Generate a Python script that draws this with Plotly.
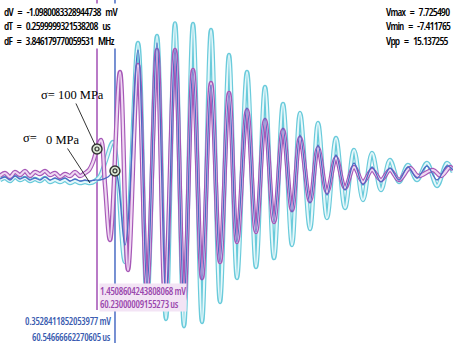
import numpy as np
import plotly.graph_objects as go

# --- acquisition time base -------------------------------------------------
SAMPLE_US = 0.0175944          # time per sample, µs
T_START = 58.5234              # time of sample 0, µs

# --- channel A (cyan): sample index / amplitude in mV ----------------------
cyan_sample = [0, 5, 10, 15, 20, 25, 30, 35, 40, 45, 50, 55, 60, 65, 70, 75, 80, 85, 90, 95,
               100, 106, 113, 125, 138, 147, 157, 166, 175, 184, 193, 202, 211, 220, 229,
               237, 247, 256, 265, 274, 283, 292, 300, 310, 318, 327, 336, 345, 354, 363,
               372, 381, 390, 399, 408, 417, 427, 437, 447, 453]
cyan_mv = [-0.10, 0.00, -0.15, 0.05, -0.10, 0.00, -0.15, -0.05, -0.15, 0.00, -0.20, -0.10,
           -0.20, -0.10, -0.25, -0.15, -0.25, -0.20, -0.25, -0.15,
           0.10, 0.90, 1.80, -4.20, 6.75, -6.35, 7.10, -7.05, 7.73, -7.41, 7.70, -7.20, 7.40,
           -6.20, 6.15, -5.00, 5.30, -4.45, 4.55, -4.00, 3.70, -3.35, 3.25, -2.55, 2.75,
           -2.00, 2.00, -1.50, 1.40, -1.10, 1.25, -0.60, 0.90, -0.20, 0.65, -0.10, 0.75,
           -0.40, 0.75, 0.30]

# --- channel B (purple) ----------------------------------------------------
purple_sample = [0, 5, 10, 15, 20, 25, 30, 35, 40, 45, 50, 55, 60, 65, 70, 75, 80, 85, 89, 93,
                 97, 101, 105, 110, 120, 128, 138, 147, 157, 165, 175, 184, 193, 202, 211,
                 220, 229, 237, 247, 256, 265, 274, 283, 292, 300, 310, 318, 327, 336, 345,
                 354, 363, 372, 381, 390, 399, 410, 418, 433, 441, 450, 453]
purple_mv = [0.10, 0.25, 0.05, 0.30, 0.15, 0.35, 0.10, 0.30, 0.20, 0.35, 0.15, 0.25, 0.05,
             0.20, 0.10, 0.30, 0.10, 0.25, 0.40, 0.80,
             1.45, 1.90, -0.35, -3.10, 5.30, -4.60, 5.65, -5.50, 6.40, -6.00, 6.40, -6.10,
             5.40, -5.00, 4.75, -4.20, 4.25, -3.20, 3.40, -2.70, 2.90, -2.20, 2.40, -1.60,
             2.00, -1.15, 1.50, -0.70, 1.00, -0.50, 0.55, -0.20, 0.40, -0.10, 0.40, -0.10,
             0.50, 0.10, 0.40, 0.10, 0.55, 0.40]

# --- channel C (blue) ------------------------------------------------------
blue_sample = [0, 5, 10, 15, 20, 25, 30, 35, 40, 45, 50, 55, 60, 65, 70, 75, 80, 85, 90, 95,
               100, 108, 115, 125, 138, 147, 157, 166, 175, 184, 193, 202, 211, 220, 229,
               237, 247, 256, 265, 274, 283, 292, 300, 310, 318, 327, 336, 345, 354, 363,
               372, 381, 390, 399, 408, 417, 427, 437, 447, 453]
blue_mv = [-0.05, 0.05, -0.10, 0.10, -0.05, 0.05, -0.10, 0.00, -0.10, 0.05, -0.10, 0.00,
           -0.10, 0.00, -0.15, -0.05, -0.15, -0.10, -0.15, -0.10,
           -0.10, 0.05, 0.3528, -3.35, 6.40, -5.35, 6.75, -6.00, 6.40, -6.10, 5.40, -5.10,
           4.65, -4.20, 4.25, -3.20, 3.50, -2.70, 3.00, -2.20, 2.50, -1.70, 2.15, -1.25,
           1.65, -0.85, 1.15, -0.60, 0.75, -0.35, 0.55, -0.20, 0.50, -0.10, 0.55, 0.00,
           0.60, -0.10, 0.60, 0.40]

# --- cursors (time µs, level mV) -------------------------------------------
cursor_t = [60.23000009155273, 60.54666662270605]
cursor_mv = [1.4508604243808068, 0.3528411852053977]
cursor_color = ["#a24fb4", "#4a6cc4"]
cursor_level_text = ["1.4508604243808068 mV", "0.3528411852053977 mV"]
cursor_time_text = ["60.23000009155273 us", "60.54666662270605 us"]

# readouts
delta_text = ["dV = -1.0980083328944738 mV",
              "dT = 0.2599999321538208 us",
              "dF = 3.846179770059531 MHz"]
stats_text = ["Vmax = 7.725490",
              "Vmin = -7.411765",
              "Vpp = 15.137255"]

Y_RANGE = [-8.45, 8.9]
N_SAMPLES = 453


def to_us(samples):
    return T_START + np.asarray(samples) * SAMPLE_US


def condensed(s, spacing=-0.5, weight=600, wide_spaces=False):
    if wide_spaces:
        s = s.replace(" ", "\u2002")
    return (f'<span style="font-stretch:75%;letter-spacing:{spacing}px;'
            f'font-weight:{weight}">{s}</span>')


fig = go.Figure()


def outlined(samples, mv, outer, inner, w_out, w_in):
    t = to_us(samples)
    fig.add_trace(go.Scatter(x=t, y=mv, mode="lines", hoverinfo="skip",
                             line=dict(color=outer, width=w_out, shape="spline", smoothing=1)))
    fig.add_trace(go.Scatter(x=t, y=mv, mode="lines", hoverinfo="skip",
                             line=dict(color=inner, width=w_in, shape="spline", smoothing=1)))


outlined(cyan_sample, cyan_mv, "#6acbdb", "#e6f7fa", 4.5, 2.2)
outlined(purple_sample, purple_mv, "#a658b7", "#efd8f2", 4.5, 2.2)
fig.add_trace(go.Scatter(x=to_us(blue_sample), y=blue_mv, mode="lines", hoverinfo="skip",
                         line=dict(color="#4a6cc4", width=1.3, shape="spline", smoothing=1)))

# cursor lines
cursor_bottom = [-6.6, -8.25]
for t, c, yb in zip(cursor_t, cursor_color, cursor_bottom):
    fig.add_shape(type="line", xref="x", yref="y", x0=t, x1=t, y0=yb, y1=Y_RANGE[1],
                  line=dict(color=c, width=1.5), layer="below")

# arrival markers at the cursor readings
fig.add_trace(go.Scatter(x=cursor_t, y=cursor_mv, mode="markers", hoverinfo="skip",
                         marker=dict(symbol="circle", size=10, color="#d9e6d2",
                                     line=dict(color="#333333", width=1.4))))
fig.add_trace(go.Scatter(x=cursor_t, y=cursor_mv, mode="markers", hoverinfo="skip",
                         marker=dict(symbol="circle-open", size=4, color="#333333",
                                     line=dict(width=1.2))))

sans = "Open Sans, Liberation Sans, sans-serif"
serif = "Liberation Serif, Times New Roman, serif"

annotations = [
    dict(text="<br>".join(condensed(s, -0.8, wide_spaces=True) for s in delta_text),
         xref="paper", yref="paper", x=0.006, y=0.992,
         xanchor="left", yanchor="top", align="left", showarrow=False,
         bgcolor="white", borderpad=0, font=dict(family=sans, size=11, color="black")),
    dict(text="<br>".join(condensed(s, -0.8, wide_spaces=True) for s in stats_text),
         xref="paper", yref="paper", x=0.998, y=0.992,
         xanchor="right", yanchor="top", align="left", showarrow=False,
         bgcolor="white", borderpad=0, font=dict(family=sans, size=11, color="black")),
    dict(text=condensed(cursor_level_text[0], -0.3) + "<br>" + condensed(cursor_time_text[0], -0.3),
         xref="x", yref="y", x=cursor_t[0], y=-5.25, xshift=2,
         xanchor="left", yanchor="top", align="left", showarrow=False,
         bgcolor="#f3e4f5", borderpad=0, font=dict(family=sans, size=10, color="#9a48ad")),
    dict(text=condensed(cursor_level_text[1], -0.3), xref="x", yref="y", x=cursor_t[1],
         y=(178 - 321) / 20.0, xshift=-3, xanchor="right", yanchor="middle",
         showarrow=False, borderpad=0, font=dict(family=sans, size=10, color="#3a5cb0")),
    dict(text=condensed(cursor_time_text[1], -0.3), xref="x", yref="y", x=cursor_t[1],
         y=(178 - 337) / 20.0, xshift=-3, xanchor="right", yanchor="middle",
         showarrow=False, borderpad=0, font=dict(family=sans, size=10, color="#3a5cb0")),
    dict(text="σ= 100 MPa", xref="x", yref="y", x=cursor_t[0], y=cursor_mv[0],
         ax=-25, ay=-54, showarrow=True, arrowhead=0, arrowwidth=0.8, arrowcolor="black",
         standoff=5, font=dict(family=serif, size=12.5, color="black")),
    dict(text="0 MPa", xref="x", yref="y", x=to_us(90), y=float(np.interp(90, cyan_sample, cyan_mv)),
         ax=-28, ay=-43, showarrow=True, arrowhead=0, arrowwidth=0.8, arrowcolor="black",
         standoff=0, font=dict(family=serif, size=12.5, color="black")),
    dict(text="σ=", xref="x", yref="y", x=to_us(30), y=(178 - 138) / 20.0, showarrow=False,
         font=dict(family=serif, size=12.5, color="black")),
]

fig.update_layout(
    width=453, height=347,
    margin=dict(l=0, r=0, t=0, b=0),
    paper_bgcolor="white", plot_bgcolor="white",
    showlegend=False,
    xaxis=dict(range=[T_START, T_START + N_SAMPLES * SAMPLE_US], visible=False, fixedrange=True),
    yaxis=dict(range=Y_RANGE, visible=False, fixedrange=True),
    annotations=annotations,
)

fig.write_html("out.html", config={"displayModeBar": False})
